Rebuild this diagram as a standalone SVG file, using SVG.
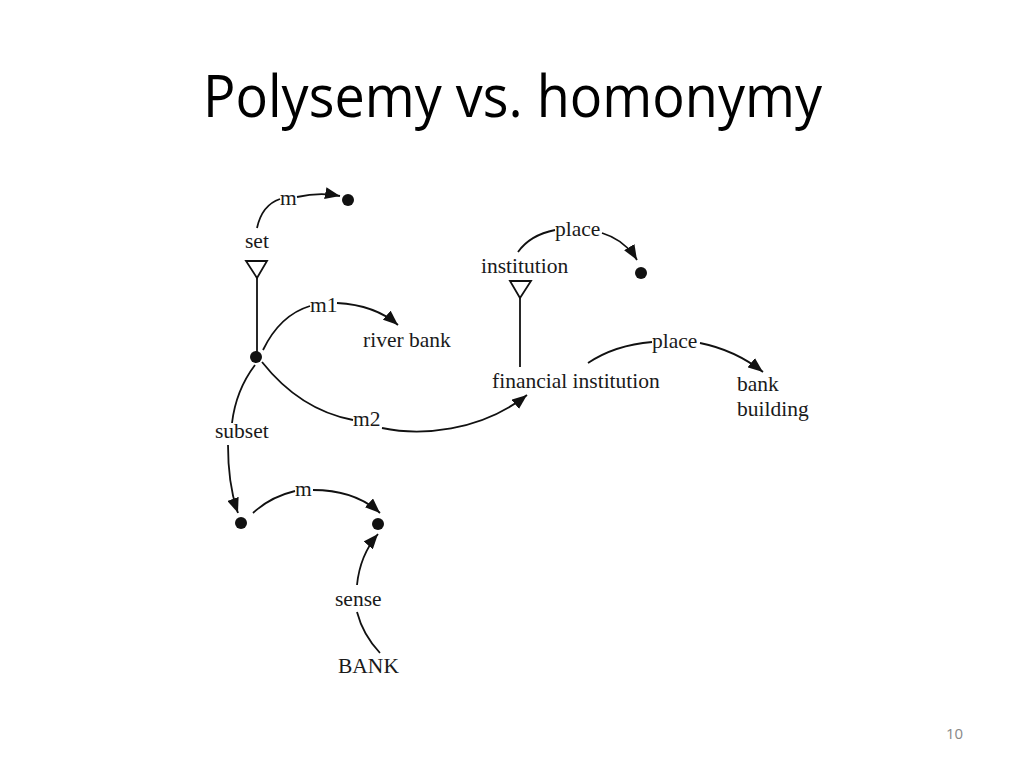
<svg xmlns="http://www.w3.org/2000/svg" width="1024" height="768" viewBox="0 0 1024 768">
<style>
.t{font-family:"Liberation Serif","Times New Roman",serif;font-size:21.5px;fill:#1a1a1a}
.c{fill:none;stroke:#111;stroke-width:1.8}
.dot{fill:#111}
.tri{fill:#fff;stroke:#111;stroke-width:1.8}
</style>
<defs>
<marker id="ah" markerUnits="userSpaceOnUse" markerWidth="16" markerHeight="12" refX="15" refY="6" orient="auto">
<path d="M0,0 L15,6 L0,12 z" fill="#111"/>
</marker>
</defs>
<rect width="1024" height="768" fill="#fff"/>
<text x="203" y="117" font-family="'Open Sans','Noto Sans',sans-serif" font-size="58" textLength="619" lengthAdjust="spacingAndGlyphs" fill="#000">Polysemy vs. homonymy</text>
<text x="946" y="739" font-family="'Open Sans','Liberation Sans',sans-serif" font-size="15" fill="#888">10</text>

<g id="connectors">
<path class="c" d="M257,228 Q262,205 280,199"/>
<path class="c" d="M297,197 Q320,192 340,196" marker-end="url(#ah)"/>
<line class="c" x1="257" y1="278" x2="257" y2="352"/>
<path class="c" d="M263,350 Q280,315 310,306"/>
<path class="c" d="M337,303 Q375,305 398,325" marker-end="url(#ah)"/>
<path class="c" d="M262,362 Q300,410 353,420"/>
<path class="c" d="M382,428 C420,436 480,432 527,395" marker-end="url(#ah)"/>
<path class="c" d="M255,365 Q236,390 232,423"/>
<path class="c" d="M228,445 Q228,485 238,513" marker-end="url(#ah)"/>
<path class="c" d="M253,513 Q270,497 295,491"/>
<path class="c" d="M313,490 Q355,490 380,513" marker-end="url(#ah)"/>
<path class="c" d="M357,585 Q360,555 378,534" marker-end="url(#ah)"/>
<path class="c" d="M357,612 Q363,635 380,653"/>
<path class="c" d="M518,252 Q530,235 555,230"/>
<path class="c" d="M602,233 Q625,240 637,260" marker-end="url(#ah)"/>
<line class="c" x1="520" y1="298" x2="520" y2="367"/>
<path class="c" d="M588,363 Q615,345 652,342"/>
<path class="c" d="M700,343 Q735,350 763,372" marker-end="url(#ah)"/>
</g>

<g id="node-set"><text class="t" x="245" y="248">set</text><path class="tri" d="M246,261 L267,261 L257,278 z"/></g>
<g id="node-set-m-dot"><circle class="dot" cx="348" cy="200" r="6"/></g>
<g id="label-m-top"><text class="t" x="280" y="205">m</text></g>
<g id="node-bank-dot"><circle class="dot" cx="256" cy="357" r="6"/></g>
<g id="label-m1"><text class="t" x="310" y="312">m1</text></g>
<g id="node-river-bank"><text class="t" x="363" y="347">river bank</text></g>
<g id="label-m2"><text class="t" x="353" y="426">m2</text></g>
<g id="label-subset"><text class="t" x="215" y="438">subset</text></g>
<g id="node-subset-dot"><circle class="dot" cx="241" cy="523" r="6"/></g>
<g id="label-m-bottom"><text class="t" x="295" y="496">m</text></g>
<g id="node-sense-dot"><circle class="dot" cx="378" cy="524" r="6"/></g>
<g id="label-sense"><text class="t" x="335" y="606">sense</text></g>
<g id="node-BANK"><text class="t" x="338" y="673">BANK</text></g>
<g id="node-institution"><text class="t" x="481" y="273">institution</text><path class="tri" d="M510,281 L531,281 L520,298 z"/></g>
<g id="label-place-top"><text class="t" x="555" y="236">place</text></g>
<g id="node-place-dot"><circle class="dot" cx="641" cy="273" r="6"/></g>
<g id="node-financial-institution"><text class="t" x="492" y="388">financial institution</text></g>
<g id="label-place-2"><text class="t" x="652" y="348">place</text></g>
<g id="node-bank-building"><text class="t" x="737" y="391">bank</text><text class="t" x="737" y="416">building</text></g>
</svg>
